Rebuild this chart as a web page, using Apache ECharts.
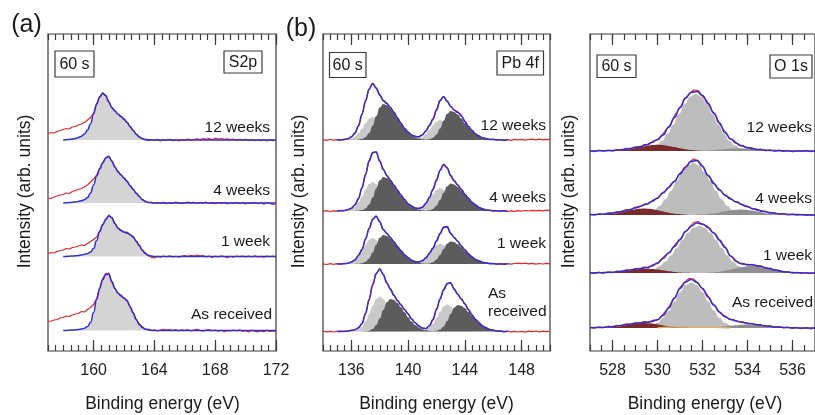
<!DOCTYPE html>
<html><head><meta charset="utf-8">
<script src="https://cdn.jsdelivr.net/npm/echarts@6/dist/echarts.min.js"></script>
<style>html,body{margin:0;padding:0;background:#fff}#c{width:815px;height:415px}</style>
</head><body><div id="c"></div>
<script>
// ---------------- labels / ticks ----------------
const spectraLabels = ['12 weeks', '4 weeks', '1 week', 'As received'];
const panelTags = ['(a)', '(b)'];
const timeTag = '60 s';
const coreLevels = ['S2p', 'Pb 4f', 'O 1s'];
const xTitle = 'Binding energy (eV)';
const yTitle = 'Intensity (arb. units)';
const aTicks = [160, 164, 168, 172];
const bTicks = [136, 140, 144, 148];
const cTicks = [528, 530, 532, 534, 536];
const aRange = [157, 172];
const bRange = [134, 150];
const cRange = [527, 537];

// ---------------- panel (a) S 2p ----------------
const aOffsets = [211, 148, 94.5, 20.5];
const aRawStart = 157, aRawStep = 0.2;
const aRaw12 = [6.5,7.5,7,8.5,9.5, 10.5,11.5,11,13,13.5, 15,16,17.5,20,22.5, 27,36,43.5,47.5,44, 38.5,32,29.5,25.5,24,
  20.5,18,13,10,5.5, 3.5,1,0.2,-0.8,0.5, -0.5,0.6,-1,0.3,-0.4, 0.8,-0.6,0.2,-0.9,0.4, 0,0.9,-0.3,0.5,1.2,
  0.4,1.5,0.8,1.3,0.5, 1.8,0.9,1.4,0.6,1.2, 0.3,1,-0.2,0.6,0.1, 0.7,-0.5,0.4,-0.8,0.2, -0.6,0.3,-1,0.1,-0.7, 0];
const aRaw4 = [5,4.5,6,7,8, 8.5,10,9.5,11.5,12.5, 13.5,14.5,16,18,21, 24,28,34.5,40.5,45.5, 47,41.5,36.5,31,28.5,
  24.5,22,17,14,9.5, 7,3,2,0.3,0.8, -0.5,0.4,-0.2,0.6,-0.8, 0.2,-0.4,0.9,0.1,-0.6, 0.5,1,0.2,0.8,-0.3,
  0.6,0,0.9,-0.5,0.3, -0.6,0.5,-0.2,0.7,-0.9, 0.2,-0.5,0.6,-0.3,0.4, -1,0.1,-0.4,0.6,-0.7, 0.3,-1.2,0.5,-0.4,-1.5, -0.6];
const aRaw1 = [3,4,3.5,5,6, 6.5,8,7.5,9,9.5, 10.5,11.5,11,13,15, 17,19.5,25.5,31.5,37.5, 41.5,38.5,33.5,28,26.5,
  24,24.5,21.5,20,15, 11.5,6,3.5,0.8,-0.8, -1.5,0.2,-0.6,0.5,-0.3, 0.7,-0.5,0.2,-0.8,0.4, 0.9,0.1,1.2,0.3,1.5,
  0.6,1,-0.4,0.5,-0.9, 0.3,-0.5,0.6,0,-1.3, 0.2,-0.6,0.5,-0.2,0.4, -0.5,0.3,-0.3,0.6,-0.4, 0.2,-0.7,0.4,-0.2,0.3, -0.3];
const aRawAR = [9,9.5,10.5,11,12.5, 13,14.5,14,15.5,16.5, 17,19,18.5,21,23, 26,32,42.5,52,57, 57.5,48,42.5,37,35.5,
  32,30.5,23.5,18,11.5, 6.5,4,1,1.5,-0.3, 0.8,-0.5,0.4,1.2,0.3, 1,0.2,0.9,-0.2,0.6, 0.1,0.8,-0.4,0.5,1.1,
  0.2,-0.6,0.4,1,-0.2, 0.5,-0.8,0.2,-1.2,0.1, -0.5,0.4,-0.3,0.6,-0.8, -0.2,-1.5,0.2,-0.6,-1.4, -0.3,-1.1,0.1,-0.9,-0.4, -1];
const aFitEnergy = [158,158.2,158.4,158.6,158.8,159,159.2,159.4,159.6,159.8,160,160.2,160.4,160.6,160.8,
  161,161.2,161.4,161.6,161.8,162,162.2,162.4,162.6,162.8,163,163.2,163.4,163.6,163.8,164,168,172];
const aFit12 = [0,0.3,0.6,1,1.6, 2.5,3.8,6,10,16, 26,36,43,46.5,44.5, 38,32.5,29,26,23.5, 21,17.5,13.5,9.5,6, 3,1.4,0.6,0.2,0, 0,0,0];
const aFit4 = [0,0.2,0.4,0.7,1.1, 1.6,2.3,3.3,5.5,10, 18,27,34,40,45, 46.5,42,36,31.5,28, 25,21.5,17.5,13.5,10, 6.5,3.5,1.6,0.6,0.2, 0,0,0];
const aFit1 = [0,0.1,0.3,0.5,0.7, 1,1.5,2.2,3,4.5, 8,16,25,32,37, 40.5,39,33,28.5,26, 24.5,23.5,22,19.5,15.5, 11,6.5,3,1.2,0.4, 0,0,0];
const aFitAR = [0,0.1,0.3,0.5,0.7, 1,1.5,2.3,4,8, 18,31,42,51,56, 56.5,49,42,37.5,34.5, 32.5,29.5,24,17.5,11, 6,3,1.4,0.6,0.2, 0,0,0];

// ---------------- panel (b) Pb 4f ----------------
const bOffsets = [211, 140, 87, 19.5];
const bRawStart = 134, bRawStep = 0.25;
const bRaw12 = [0.3,-0.4,0.5,-0.2, 0.4,-0.1,0.8,1.0, 3.3,6.6,14.4,25.6, 39.4,50.6,57,51.6, 45.4,39.1,36.9,32.1,
  27.9,21.6,16.9,11.2, 8.1,4.6,3.9,2.8, 5.4,8.6,14.9,20.6, 30.4,39.1,43.7,38.6, 33.9,29.6,28.2,24.8,
  18.9,13.1,9.9,5.6, 4.2,1.8,1.7,0.3, 0.8,-0.2,0.5,-0.3, 0.4,-0.3,0.6,0.1, 0.7,-0.2,0.5,0.9, 0.2,0.8,0.1,0.6, 0.3];
const bRaw4 = [-0.3,0.4,-0.5,0.2, -0.2,0.6,0.2,1.6, 2.5,6.4,12.1,23.4, 36.1,50.4,58.1,59.4, 49.6,41.9,35.1,30.9,
  25.4,21,15.6,11.6, 6.9,5.2,2.6,2.8, 3.4,7.9,13.1,21.9, 30.6,40.9,46.1,43.4, 35.1,30.4,25.6,21.9,
  16.4,12.9,8.4,6.2, 3.2,2.5,0.7,1, -0.1,0.5,-0.4,0.3, -0.5,0.2,-0.3,0.4, -0.2,0.5,0,0.6, 0.1,0.7,0.2,0.8, 0.4];
const bRaw1 = [0.2,-0.5,0.3,-0.3, 0.4,-0.2,0.6,0.5, 2.3,3.9,8.9,14.1, 25.4,35.1,44.9,47.6, 42.4,34.1,30.9,26.1,
  22.4,17.1,13.4,8.8, 6.6,3.4,2.6,1.6, 3.6,5.8,10.9,15.6, 23.4,30.1,36.9,37.1, 30.9,26.1,22.9,17.6,
  14.4,9.8,7.4,4.2, 3.4,1.4,1.4,0.2, 0.7,-0.3,0.4,-0.4, 0.3,-0.2,0.5,0.9, 0.3,0.8,0.2,0.6, -0.1,0.5,0,0.7, 0.3];
const bRawAR = [0.4,-0.3,0.2,-0.5, 0.1,0.5,-0.1,0.7, 1.3,1.5,4,7.6, 18.4,31.6,46.9,57.6, 63,56.6,48.9,42.1,
  36.4,30.6,26.9,21.6, 17.9,12.1,8.9,5.1, 3.7,2.6,5.9,11.6, 22.4,32.1,41.9,47.6, 48.9,42.1,37.4,32.1,
  27.9,21.6,16.9,11.6, 9,5.2,3.9,1.7, 1.6,0.2,0.6,-0.3, 0.4,-0.4,0.2,-0.5, 0.1,-0.6,0.3,-0.2, 0.5,-0.3,0.4,-0.1, 0.3];
const bFitStart = 135, bFitStep = 0.25;
const bFit12 = [0,0.2,0.5,1.2, 3,7,14,26, 39,51,56.5,52, 45,39.5,36.5,32.5, 27.5,22,16.5,11.6, 7.7,5,3.5,3.2,
  5,9,14.5,21, 30,39.5,43.3,39, 33.5,30,27.5,24, 18.5,13.5,9.5,6, 3.8,2.2,1.3,0.7, 0.4,0.2,0.1,0, 0];
const bFit4 = [0,0.2,0.5,1.2, 2.8,6,12.5,23, 36.5,50,58.5,59, 50,41.5,35.5,30.5, 25.8,20.6,16,11.2, 7.3,4.8,3,2.4,
  3.8,7.5,13.5,21.5, 31,40.5,46.5,43, 35.5,30,26,21.5, 16.8,12.5,8.8,5.8, 3.6,2.1,1.1,0.6, 0.3,0.1,0,0, 0];
const bFit1 = [0,0.1,0.3,0.8, 1.9,4.3,8.5,14.5, 25,35.5,44.5,48, 42,34.5,30.5,26.5, 22,17.5,13,9.2, 6.2,3.8,2.2,2,
  3.2,6.2,10.5,16, 23,30.5,36.5,37.5, 30.5,26.5,22.5,18, 14,10.2,7,4.6, 3,1.8,1,0.6, 0.3,0.1,0,0, 0];
const bFitAR = [0,0,0.2,0.4, 0.9,1.8,3.6,8, 18,32,46.5,58, 62.5,57,48.5,42.5, 36,31,26.5,22, 17.5,12.5,8.5,5.5,
  3.3,3,5.5,12, 22,32.5,41.5,48, 48.5,42.5,37,32.5, 27.5,22,16.5,12, 8.6,5.6,3.5,2.1, 1.2,0.6,0.3,0.1, 0];
const bCompStep = 0.25;
const bStartL1 = [135.5, 135.5, 135.5, 136.0];
const bStartD1 = [136.0, 136.0, 136.0, 136.5];
const bStartL2 = [140.25, 140.25, 140.25, 140.75];
const bStartD2 = [140.75, 140.75, 140.75, 141.25];
const bL1_12 = [0.2,0.5,1.4,3.4,6.7,11.5,16.9,21.3,23,21.3,16.9,11.5,6.7,3.4,1.4,0.5,0.2];
const bL1_4 = [0.2,0.7,1.8,4.2,8.4,14.5,21.3,26.9,29,26.9,21.3,14.5,8.4,4.2,1.8,0.7,0.2];
const bL1_1 = [0.2,0.6,1.6,3.8,7.6,13,19.1,24.1,26,24.1,19.1,13,7.6,3.8,1.6,0.6,0.2];
const bL1_AR = [0.2,0.8,2.2,5.1,10.2,17.5,25.7,32.4,35,32.4,25.7,17.5,10.2,5.1,2.2,0.8,0.2];
const bD1_12 = [0,0.1,0.3,0.9,2.8,7,14.3,23.9,32.5,36,34.8,31.6,26.8,21.3,15.9,11.1,7.2,4.4,2.6,1.4,0.7,0.3];
const bD1_4 = [0,0.1,0.2,0.9,2.6,6.6,13.5,22.6,30.7,34,32.9,29.8,25.3,20.1,15,10.5,6.8,4.2,2.4,1.3,0.6,0.3];
const bD1_1 = [0,0.1,0.2,0.7,2.2,5.6,11.5,19.3,26.2,29,28.1,25.4,21.6,17.2,12.8,8.9,5.8,3.6,2.1,1.1,0.6,0.3];
const bD1_AR = [0,0.1,0.2,0.8,2.5,6.3,12.9,21.6,29.3,32.5,31.5,28.5,24.2,19.2,14.3,10,6.5,4,2.3,1.2,0.6,0.3];
const bL2_12 = [0.1,0.5,1.3,2.9,5.8,10,14.7,18.5,20,18.5,14.7,10,5.8,2.9,1.3,0.5,0.1];
const bL2_4 = [0.2,0.5,1.4,3.4,6.7,11.5,16.9,21.3,23,21.3,16.9,11.5,6.7,3.4,1.4,0.5,0.2];
const bL2_1 = [0.1,0.5,1.3,3,6,10.3,15.1,19,20.5,19,15.1,10.3,6,3,1.3,0.5,0.1];
const bL2_AR = [0.2,0.6,1.7,3.9,7.9,13.5,19.8,25,27,25,19.8,13.5,7.9,3.9,1.7,0.6,0.2];
const bD2_12 = [0,0.1,0.2,0.7,2.2,5.6,11.5,19.3,26.2,29,28.1,25.4,21.6,17.2,12.8,8.9,5.8,3.6,2.1,1.1,0.6,0.3];
const bD2_4 = [0,0.1,0.2,0.7,2.1,5.3,10.9,18.3,24.8,27.5,26.6,24.1,20.5,16.3,12.1,8.5,5.5,3.4,2,1,0.5,0.2];
const bD2_1 = [0,0,0.2,0.6,1.7,4.4,8.9,14.9,20.3,22.5,21.8,19.7,16.8,13.3,9.9,6.9,4.5,2.8,1.6,0.9,0.4,0.2];
const bD2_AR = [0,0.1,0.2,0.7,2,5.1,10.5,17.6,23.9,26.5,25.7,23.2,19.7,15.7,11.7,8.2,5.3,3.3,1.9,1,0.5,0.2];

// ---------------- panel (c) O 1s ----------------
const cOffsets = [200, 136, 78, 23];
const cRawStart = 527, cRawStep = 0.2;
const cRaw12 = [0.5,-0.6,0.8,-0.2,0.9, -0.1,1.4,0.6,2.6,2.0, 4.2,3.6,6.3,6.2,9.8, 11,16.2,21.5,27,37, 43,51.5,57,61,60.5,
  55,49.8,41,34.8,25.5, 19.5,12.6,10.5,6,5.6, 2.8,3.3,1.1,1.9,0.2, 1.1,-0.3,0.9,-0.5,0.6, -0.8,0.4,-0.4,0.7,-0.6, 0.2];
const cRaw4 = [0.9,-0.2,1.3,0.5,2.1, 1.6,3.3,3.1,5.4,4.9, 7.8,8,10.8,11.3,15, 16.5,22,24.8,31,34.5, 42,46,52.5,56,54.5,
  49,40.5,35.5,28.5,24.8, 19.4,17.5,13.6,12.8,9.4, 8.9,6.1,5.9,3.6,3.8, 1.9,2.3,0.8,1.4,0.1, 0.9,-0.2,0.6,-0.5,0.4, -0.3];
const cRaw1 = [0.6,-0.4,0.9,-0.3,1.2, 0.3,1.9,1.2,3.1,2.5, 4.5,3.8,5.9,5.2,8.5, 9.4,14.5,18.8,22,29, 33,40.8,44.2,50.5,51.5,
  48.6,47,41.5,38.4,31, 26.3,18,14.6,9.8,9.6, 7.8,8.7,6.9,7.1,4.7, 4.9,2.6,2.8,0.9,1.5, -0.2,0.6,-0.5,0.5,-0.6, 0.2];
const cRawAR = [0.8,-0.3,1.2,0.3,1.8, 1,2.7,2.1,4.1,3.4, 5.3,4.6,6.5,5.4,7.8, 7.9,12.5,17.8,24.8,31.4, 40.5,45.6,49.5,49,44.8,
  39,33.6,25.6,21,14.5, 12,8.6,8.3,6,6.2, 4.2,4.7,2.8,3.3,1.5, 2.3,0.6,1.4,0.1,0.9, -0.4,0.5,-0.6,0.3,-0.8, 0.1];
const cFitStart = 527, cFitStep = 0.25;
const cFit12 = [0,0.1,0.2,0.3, 0.5,1,1.6,2.4, 3.4,4.6,6.2,8.4, 11.5,16,24,33.5, 43.5,53,58.5,59.5, 55.5,47.5,38,28,
  18.5,12,7.8,5, 3.4,2.2,1.4,0.9, 0.6,0.4,0.25,0.1, 0,0,0,0, 0];
const cFit4 = [0.3,0.5,0.8,1.3, 2,2.9,4,5.3, 7,8.8,10.7,13.5, 17,22,27.5,33.5, 41,48,53.5,54.5, 48.5,39.5,31.5,25,
  20,16,13,10.5, 8.2,6.3,4.7,3.4, 2.4,1.6,1.1,0.7, 0.5,0.4,0.2,0.1, 0];
const cFit1 = [0.1,0.2,0.3,0.5, 0.8,1.4,2.1,2.9, 3.8,4.6,5.4,7, 10,14.5,20,26.5, 33.5,41.5,47,50, 49,45.5,40,33,
  25.5,17,11.5,9, 8.4,8,7,5.6, 4.2,2.9,1.7,0.9, 0.5,0.2,0.1,0, 0];
const cFitAR = [0.2,0.4,0.6,1, 1.5,2.2,3,3.8, 4.6,5.3,5.8,6.6, 8.3,12.5,20,30, 39.5,46,48.5,45.5, 39.5,31,23,16,
  11.3,8.6,7,5.8, 4.8,3.9,3,2.2, 1.7,1,0.7,0.4, 0.2,0.1,0,0, 0];
const cCompStep = 0.25;
const cStartM = [529.2, 529.1, 529.35, 529.0];
const cStartR = [528.0, 527.4, 527.5, 527.4];
const cStartG = [531.6, 531.7, 532.15, 532.0];
const cStartT = 530.0;
const cM_12 = [0.5,1.1,2.6,5.4,10.1,17.2,26.4,37,47,54.3,57,54.3,47,37,26.4,17.2,10.1,5.4,2.6,1.1,0.5];
const cM_4 = [0.4,1,2.4,4.9,9.3,15.7,24.1,33.7,42.9,49.6,52,49.6,42.9,33.7,24.1,15.7,9.3,4.9,2.4,1,0.4];
const cM_1 = [0.9,1.9,3.8,6.9,11.4,17.6,25.1,33,40.2,45.2,47,45.2,40.2,33,25.1,17.6,11.4,6.9,3.8,1.9,0.9];
const cM_AR = [0.1,0.4,1,2.4,5.2,10.1,17.4,26.5,35.8,42.9,45.5,42.9,35.8,26.5,17.4,10.1,5.2,2.4,1,0.4,0.1];
const cR_12 = [0.2,0.5,0.9,1.7,2.7,3.9,5.1,6,6.3,6,5.1,3.9,2.7,1.7,0.9,0.5,0.2];
const cR_4 = [0.2,0.5,0.9,1.7,2.8,4,5.2,6.2,6.5,6.2,5.2,4,2.8,1.7,0.9,0.5,0.2];
const cR_1 = [0.1,0.3,0.6,1.1,1.8,2.7,3.5,4.1,4.3,4.1,3.5,2.7,1.8,1.1,0.6,0.3,0.1];
const cR_AR = [0.2,0.4,0.7,1.3,2.1,3.1,4,4.7,5,4.7,4,3.1,2.1,1.3,0.7,0.4,0.2];
const cG_12 = [0.1,0.2,0.4,0.7,1.1,1.5,2,2.4,2.5,2.4,2,1.5,1.1,0.7,0.4,0.2,0.1];
const cG_4 = [0.2,0.4,0.8,1.4,2.3,3.4,4.4,5.2,5.5,5.2,4.4,3.4,2.3,1.4,0.8,0.4,0.2];
const cG_1 = [0.2,0.5,1,1.8,3,4.3,5.6,6.6,7,6.6,5.6,4.3,3,1.8,1,0.5,0.2];
const cG_AR = [0.1,0.3,0.5,0.9,1.5,2.2,2.8,3.3,3.5,3.3,2.8,2.2,1.5,0.9,0.5,0.3,0.1];
const cT_AR = [0.3,0.6,0.8,0.9,1,1,1,1,0.9,0.8,0.7,0.5,0.3,0.1];

// ---------------- styling ----------------
const FONT = '"Liberation Sans", Arial, Helvetica, sans-serif';
const FRAME = '#3a3a3a';
const RED = '#e3262a';
const BLUE = '#2f2fd4';
const GRIDS = [
  { left: 48, top: 34, width: 228, height: 317 },
  { left: 323, top: 34, width: 227, height: 317 },
  { left: 590, top: 34, width: 230, height: 317 }
];
const YMAX = 317;

function pts(start, step, vals, off) {
  return vals.map((v, i) => [Math.round((start + i * step) * 1000) / 1000, v + off]);
}
function ptsE(energies, vals, off) {
  return vals.map((v, i) => [energies[i], v + off]);
}
function areaS(g, data, off, color) {
  return { type: 'line', xAxisIndex: g * 4, yAxisIndex: g, data, smooth: true, smoothMonotone: 'x',
    symbol: 'none', showSymbol: false, silent: true, animation: false,
    lineStyle: { width: 0, opacity: 0 }, areaStyle: { color, opacity: 1, origin: off } };
}
function lineS(g, data, color, width, smooth) {
  return { type: 'line', xAxisIndex: g * 4, yAxisIndex: g, data, smooth: smooth, smoothMonotone: smooth ? 'x' : undefined,
    symbol: 'none', showSymbol: false, silent: true, animation: false,
    lineStyle: { color, width } };
}

const series = [];
// panel a
const aFits = [aFit12, aFit4, aFit1, aFitAR];
const aRaws = [aRaw12, aRaw4, aRaw1, aRawAR];
aOffsets.forEach((off, k) => {
  series.push(areaS(0, ptsE(aFitEnergy, aFits[k], off), off, '#d4d4d4'));
  series.push(lineS(0, pts(aRawStart, aRawStep, aRaws[k], off), RED, 1.2, false));
  series.push(lineS(0, ptsE(aFitEnergy, aFits[k], off), BLUE, 1.5, true));
});
// panel b
const bFits = [bFit12, bFit4, bFit1, bFitAR];
const bRaws = [bRaw12, bRaw4, bRaw1, bRawAR];
const bL1 = [bL1_12, bL1_4, bL1_1, bL1_AR], bD1 = [bD1_12, bD1_4, bD1_1, bD1_AR];
const bL2 = [bL2_12, bL2_4, bL2_1, bL2_AR], bD2 = [bD2_12, bD2_4, bD2_1, bD2_AR];
bOffsets.forEach((off, k) => {
  series.push(areaS(1, pts(bStartL1[k], bCompStep, bL1[k], off), off, '#c9c9c9'));
  series.push(areaS(1, pts(bStartL2[k], bCompStep, bL2[k], off), off, '#c9c9c9'));
  series.push(areaS(1, pts(bStartD1[k], bCompStep, bD1[k], off), off, '#5c5c5c'));
  series.push(areaS(1, pts(bStartD2[k], bCompStep, bD2[k], off), off, '#5c5c5c'));
  series.push(lineS(1, pts(bRawStart, bRawStep, bRaws[k], off), RED, 1.2, false));
  series.push(lineS(1, pts(bFitStart, bFitStep, bFits[k], off), BLUE, 1.5, true));
});
// panel c
const cFits = [cFit12, cFit4, cFit1, cFitAR];
const cRaws = [cRaw12, cRaw4, cRaw1, cRawAR];
const cM = [cM_12, cM_4, cM_1, cM_AR], cR = [cR_12, cR_4, cR_1, cR_AR], cG = [cG_12, cG_4, cG_1, cG_AR];
cOffsets.forEach((off, k) => {
  series.push(areaS(2, pts(cStartM[k], cCompStep, cM[k], off), off, '#bdbdbd'));
  series.push(areaS(2, pts(cStartR[k], cCompStep, cR[k], off), off, '#7b2a2a'));
  series.push(areaS(2, pts(cStartG[k], cCompStep, cG[k], off), off, '#8f8f8f'));
  if (k === 3) series.push(lineS(2, pts(cStartT, cCompStep, cT_AR, off), '#dcae6a', 1.4, true));
  series.push(lineS(2, pts(cRawStart, cRawStep, cRaws[k], off), RED, 1.2, false));
  series.push(lineS(2, pts(cFitStart, cFitStep, cFits[k], off), BLUE, 1.5, true));
});

function xAxes(g, range, majors) {
  const base = { gridIndex: g, type: 'value', min: range[0], max: range[1],
    splitLine: { show: false }, axisLine: { show: false } };
  const tl = { color: FRAME, width: 1.2 };
  return [
    Object.assign({}, base, { position: 'bottom', interval: 0.5,
      axisTick: { show: true, inside: true, length: 6, lineStyle: tl }, axisLabel: { show: false } }),
    Object.assign({}, base, { position: 'bottom',
      axisTick: { show: true, inside: true, length: 11, customValues: majors, lineStyle: tl },
      axisLabel: { show: true, customValues: majors, fontSize: 16, color: '#222', margin: 12, fontFamily: FONT } }),
    Object.assign({}, base, { position: 'top', interval: 0.5,
      axisTick: { show: true, inside: true, length: 6, lineStyle: tl }, axisLabel: { show: false } }),
    Object.assign({}, base, { position: 'top',
      axisTick: { show: true, inside: true, length: 11, customValues: majors, lineStyle: tl }, axisLabel: { show: false } })
  ];
}

function txt(text, x, y, size, align, rot) {
  return { type: 'text', x, y, rotation: rot || 0, silent: true, z: 100,
    style: { text, font: size + 'px ' + FONT, fill: '#1a1a1a',
      textAlign: align || 'center', align: align || 'center', textVerticalAlign: 'middle', verticalAlign: 'middle' } };
}
function box(x, y, w, h) {
  return { type: 'rect', silent: true, z: 99, shape: { x, y, width: w, height: h },
    style: { fill: '#fff', stroke: FRAME, lineWidth: 1.2 } };
}

const graphics = [
  txt(panelTags[0], 26.5, 25, 25), txt(panelTags[1], 301, 29, 25),
  box(55, 51, 39, 26), txt(timeTag, 74.5, 64.5, 16),
  box(224, 51, 38, 22), txt(coreLevels[0], 243, 62.5, 16),
  box(329.5, 52.5, 36.5, 25), txt(timeTag, 347.7, 65.5, 16),
  box(497, 51, 46.5, 24), txt(coreLevels[1], 520.2, 63.5, 16),
  box(597, 55, 39, 22.5), txt(timeTag, 616.5, 66.5, 16),
  box(770, 55, 42, 23), txt(coreLevels[2], 791, 67, 16),
  txt(spectraLabels[0], 270, 127.5, 15.5, 'right'), txt(spectraLabels[1], 270, 191, 15.5, 'right'),
  txt(spectraLabels[2], 270, 241.5, 15.5, 'right'), txt(spectraLabels[3], 272, 315, 15.5, 'right'),
  txt(spectraLabels[0], 546, 126, 15.5, 'right'), txt(spectraLabels[1], 546, 197.5, 15.5, 'right'),
  txt(spectraLabels[2], 546, 244, 15.5, 'right'),
  txt(spectraLabels[3].split(' ')[0], 488, 294, 15.5, 'left'), txt(spectraLabels[3].split(' ')[1], 488, 311.5, 15.5, 'left'),
  txt(spectraLabels[0], 812, 127.5, 15.5, 'right'), txt(spectraLabels[1], 812, 198.5, 15.5, 'right'),
  txt(spectraLabels[2], 812, 256, 15.5, 'right'), txt(spectraLabels[3], 813, 302.5, 15.5, 'right'),
  txt(xTitle, 162.5, 404, 17.5), txt(xTitle, 436.5, 404, 17.5), txt(xTitle, 705, 404, 17.5),
  txt(yTitle, 25, 191.5, 17.5, 'center', Math.PI / 2),
  txt(yTitle, 299, 191.5, 17.5, 'center', Math.PI / 2),
  txt(yTitle, 569.5, 191.5, 17.5, 'center', Math.PI / 2)
];

const chart = echarts.init(document.getElementById('c'), null, { renderer: 'canvas' });
chart.setOption({
  animation: false,
  backgroundColor: '#fff',
  textStyle: { fontFamily: FONT },
  grid: GRIDS.map(g => Object.assign({ show: true, borderColor: FRAME, borderWidth: 1.2, backgroundColor: 'transparent', containLabel: false }, g)),
  xAxis: [].concat(xAxes(0, aRange, aTicks), xAxes(1, bRange, bTicks), xAxes(2, cRange, cTicks)),
  yAxis: [0, 1, 2].map(g => ({ gridIndex: g, type: 'value', min: 0, max: YMAX, show: false })),
  series,
  graphic: { elements: graphics }
});
</script>
</body></html>
